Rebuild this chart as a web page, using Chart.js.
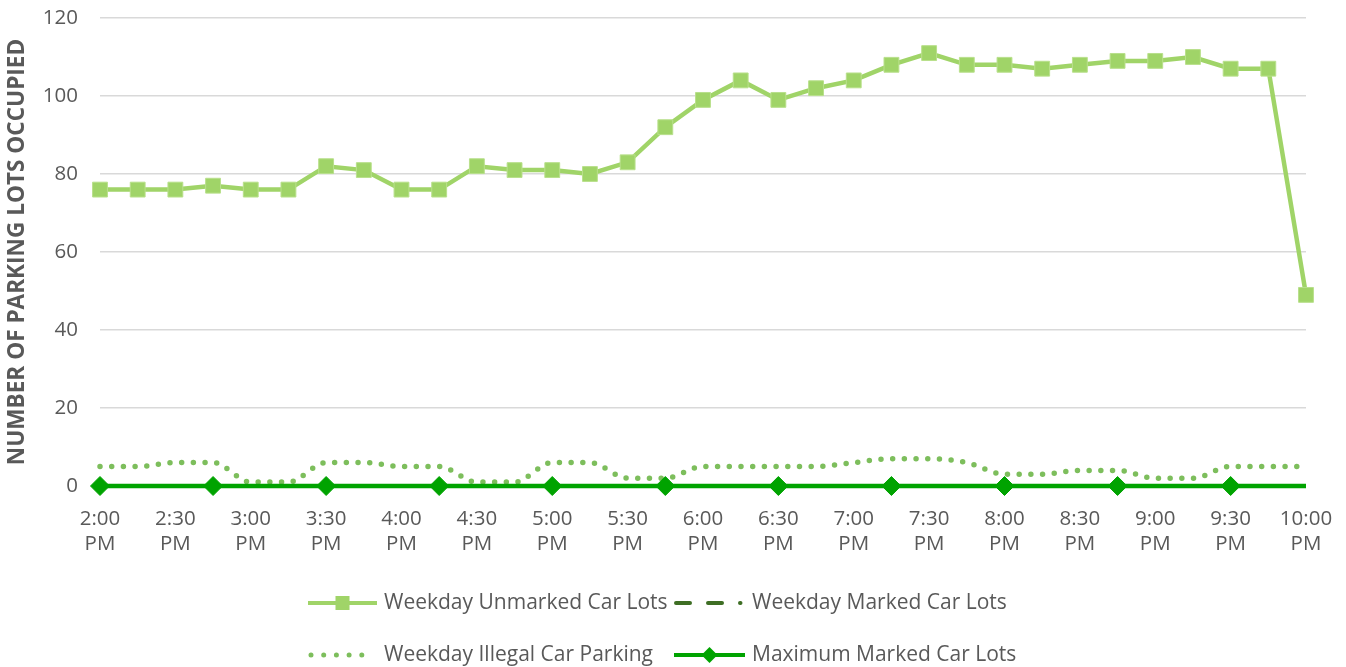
<!DOCTYPE html>
<html>
<head>
<meta charset="utf-8">
<script src="https://cdn.jsdelivr.net/npm/chart.js@4.4.1/dist/chart.umd.min.js"></script>
<style>
html,body{margin:0;padding:0;background:#fff;}
#wrap{width:1346px;height:667px;position:relative;}
</style>
</head>
<body>
<div id="wrap"><canvas id="c" width="1346" height="667"></canvas></div>
<script>
const categories = ["2:00 PM","2:15 PM","2:30 PM","2:45 PM","3:00 PM","3:15 PM","3:30 PM","3:45 PM",
  "4:00 PM","4:15 PM","4:30 PM","4:45 PM","5:00 PM","5:15 PM","5:30 PM","5:45 PM",
  "6:00 PM","6:15 PM","6:30 PM","6:45 PM","7:00 PM","7:15 PM","7:30 PM","7:45 PM",
  "8:00 PM","8:15 PM","8:30 PM","8:45 PM","9:00 PM","9:15 PM","9:30 PM","9:45 PM","10:00 PM"];
const unmarkedLots = [76,76,76,77,76,76,82,81,76,76,82,81,81,80,83,92,99,104,99,102,104,108,111,108,108,107,108,109,109,110,107,107,49];
const markedLots   = [0,0,0,0,0,0,0,0,0,0,0,0,0,0,0,0,0,0,0,0,0,0,0,0,0,0,0,0,0,0,0,0,0];
const illegalParking = [5,5,6,6,1,1,6,6,5,5,1,1,6,6,2,2,5,5,5,5,6,7,7,6,3,3,4,4,2,2,5,5,5];
const maxMarkedLots = [0,0,0,0,0,0,0,0,0,0,0,0,0,0,0,0,0,0,0,0,0,0,0,0,0,0,0,0,0,0,0,0,0];
const yTicks = [0,20,40,60,80,100,120];
const seriesNames = ["Weekday Unmarked Car Lots","Weekday Marked Car Lots","Weekday Illegal Car Parking","Maximum Marked Car Lots"];

const FONT = "'Open Sans', sans-serif";
const TXT = '#595959';
const C_UNM = '#A0D468', C_MARK = '#3E6E24', C_ILL = '#7DBE5C', C_MAX = '#00A300';

const diamondRadii = maxMarkedLots.map((v,i)=> i % 3 === 0 ? 9.5 : 0);

const legendPlugin = {
  id: 'customLegend',
  afterDraw(chart) {
    const ctx = chart.ctx;
    ctx.save();
    ctx.font = '21px ' + FONT;
    ctx.fillStyle = TXT;
    ctx.textBaseline = 'middle';
    const rows = [603, 655];
    const cols = [{s:308,e:377,t:384},{s:674,e:745,t:752}];
    const items = [
      {row:0,col:0,name:seriesNames[0],type:'sq'},
      {row:0,col:1,name:seriesNames[1],type:'dashdot'},
      {row:1,col:0,name:seriesNames[2],type:'dot'},
      {row:1,col:1,name:seriesNames[3],type:'dia'}
    ];
    items.forEach(it=>{
      const y = rows[it.row], c = cols[it.col];
      ctx.save();
      ctx.lineWidth = 4;
      if (it.type==='sq'){
        ctx.strokeStyle = C_UNM; ctx.beginPath(); ctx.moveTo(c.s,y); ctx.lineTo(c.e,y); ctx.stroke();
        ctx.fillStyle = C_UNM; const m=(c.s+c.e)/2; ctx.fillRect(m-7,y-7,14,14);
      } else if (it.type==='dashdot'){
        ctx.strokeStyle = C_MARK; ctx.lineCap='round';
        ctx.setLineDash([14,18,14,18,0.5,30]);
        ctx.beginPath(); ctx.moveTo(c.s+2,y); ctx.lineTo(c.e,y); ctx.stroke();
      } else if (it.type==='dot'){
        ctx.strokeStyle = C_ILL; ctx.lineCap='round'; ctx.lineWidth = 5; ctx.setLineDash([0,12.7]);
        ctx.beginPath(); ctx.moveTo(c.s+3,y); ctx.lineTo(c.e-4,y); ctx.stroke();
      } else {
        ctx.strokeStyle = C_MAX; ctx.beginPath(); ctx.moveTo(c.s,y); ctx.lineTo(c.e,y); ctx.stroke();
        ctx.fillStyle = C_MAX; const m=(c.s+c.e)/2;
        ctx.beginPath(); ctx.moveTo(m-8,y); ctx.lineTo(m,y-8); ctx.lineTo(m+8,y); ctx.lineTo(m,y+8); ctx.closePath(); ctx.fill();
      }
      ctx.restore();
      ctx.fillText(it.name, c.t, y);
    });
    ctx.restore();
  }
};

new Chart(document.getElementById('c'), {
  type: 'line',
  data: {
    labels: categories,
    datasets: [
      { label: seriesNames[0], data: unmarkedLots, borderColor: C_UNM, backgroundColor: C_UNM,
        borderWidth: 4.5, pointStyle: 'rect', pointRadius: 10.5, pointBorderColor: '#B9E08C',
        pointBorderWidth: 1, pointBackgroundColor: C_UNM, tension: 0, order: 0, clip: false },
      { label: seriesNames[1], data: markedLots, borderColor: C_MARK, borderWidth: 4,
        borderDash: [18,15,18,15,4,15], pointRadius: 0, tension: 0, order: 3, clip: false },
      { label: seriesNames[2], data: illegalParking, borderColor: C_ILL, borderWidth: 5.5,
        borderDash: [0,11.7], borderCapStyle: 'round', pointRadius: 0, tension: 0.4,
        cubicInterpolationMode: 'monotone', order: 2, clip: false },
      { label: seriesNames[3], data: maxMarkedLots, borderColor: C_MAX, backgroundColor: C_MAX,
        borderWidth: 4.5, pointStyle: 'rectRot', pointRadius: diamondRadii, pointBorderColor: C_MAX,
        pointBorderWidth: 1, pointBackgroundColor: C_MAX, tension: 0, order: 1, clip: false }
    ]
  },
  options: {
    responsive: false,
    animation: false,
    events: [],
    layout: { padding: { left: 0, right: 40, top: 18, bottom: 0 } },
    plugins: { legend: { display: false }, tooltip: { enabled: false } },
    scales: {
      x: {
        offset: false,
        grid: { display: false, drawTicks: false },
        border: { display: false },
        ticks: {
          autoSkip: false, maxRotation: 0, minRotation: 0, padding: 21,
          color: TXT, font: { family: FONT, size: 20.5, lineHeight: 1.22 },
          callback: function(v, i) { return i % 2 === 0 ? categories[i].split(' ') : ''; }
        },
        afterFit: s => { s.height = 181; s.paddingLeft = 0; s.paddingRight = 0; }
      },
      y: {
        min: 0, max: 120,
        afterBuildTicks: s => { s.ticks = yTicks.map(v => ({ value: v })); },
        grid: { color: '#D9D9D9', lineWidth: 1.5, drawTicks: false },
        border: { display: false },
        ticks: { padding: 22, color: TXT, font: { family: FONT, size: 20.5 } },
        title: { display: true, text: 'NUMBER OF PARKING LOTS OCCUPIED', color: TXT,
                 font: { family: FONT, size: 22.6, weight: 'bold' }, padding: { top: 4, bottom: 0 } },
        afterFit: s => { s.width = 100; s.paddingTop = 0; s.paddingBottom = 0; }
      }
    }
  },
  plugins: [legendPlugin]
});
</script>
</body>
</html>
